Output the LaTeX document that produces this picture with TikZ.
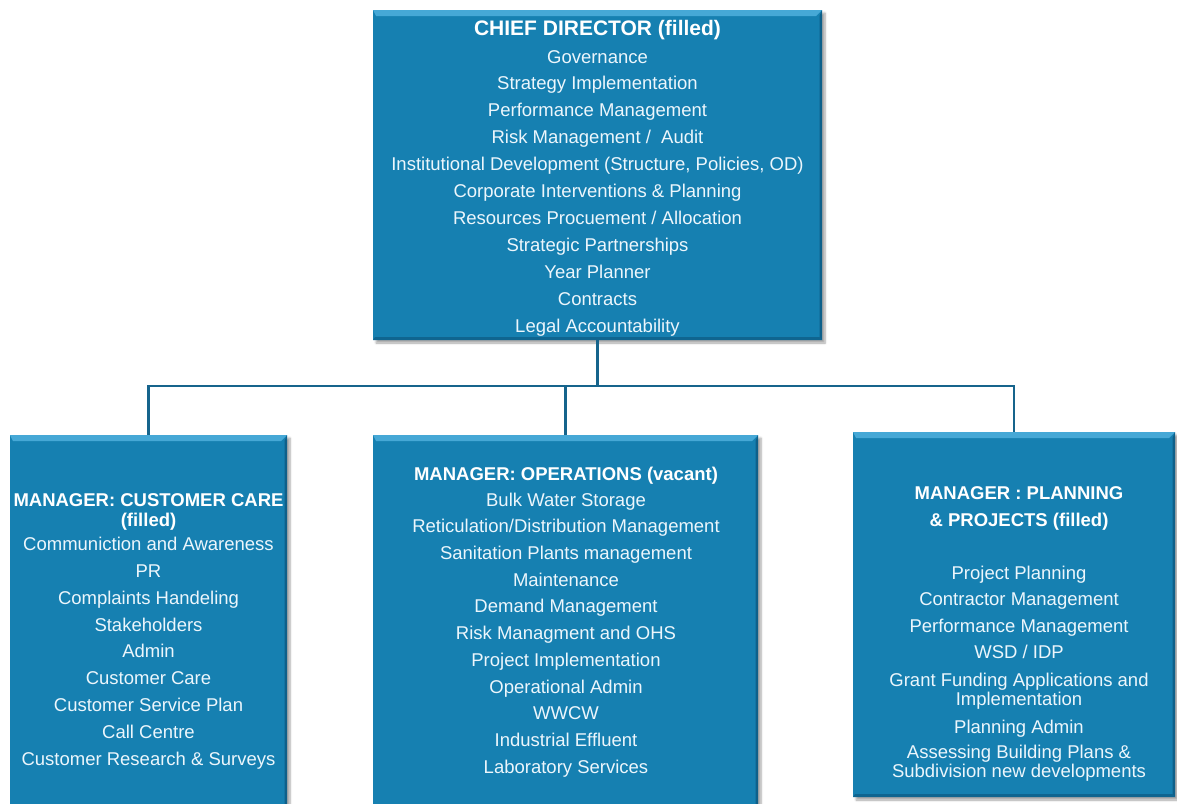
\documentclass[tikz,border=0pt]{standalone}
\usepackage{fontspec}
\setmainfont{Liberation Sans}
\usetikzlibrary{shadows.blur}
\definecolor{boxblue}{RGB}{22,128,177}
\definecolor{bevellight}{RGB}{70,168,214}
\definecolor{beveldark}{RGB}{14,96,138}
\definecolor{linkblue}{RGB}{22,100,140}
\definecolor{itemwhite}{RGB}{236,246,252}
\tikzset{
  orgbox/.style={rectangle, fill=boxblue, inner sep=0pt,
    blur shadow={shadow xshift=3pt, shadow yshift=-3pt, shadow blur steps=6, shadow opacity=35},
    path picture={
      \fill[bevellight] (path picture bounding box.north west)
        -- (path picture bounding box.north east)
        -- ([xshift=-6pt,yshift=-6pt]path picture bounding box.north east)
        -- ([xshift=3pt,yshift=-6pt]path picture bounding box.north west) -- cycle;
      \fill[beveldark] (path picture bounding box.north east)
        -- ([xshift=-2.5pt,yshift=-6pt]path picture bounding box.north east)
        -- ([xshift=-2.5pt,yshift=3pt]path picture bounding box.south east)
        -- (path picture bounding box.south east) -- cycle;
      \fill[beveldark!85!boxblue] (path picture bounding box.south west)
        -- ([xshift=2pt,yshift=3pt]path picture bounding box.south west)
        -- ([xshift=-2.5pt,yshift=3pt]path picture bounding box.south east)
        -- (path picture bounding box.south east) -- cycle;
    }},
  item/.style={anchor=base, inner sep=0pt, text=itemwhite, font=\fontsize{18.5}{20}\selectfont},
  headline/.style={item, text=white, font=\bfseries\fontsize{18.5}{20}\selectfont},
  chiefline/.style={item, text=white, font=\bfseries\fontsize{21}{22}\selectfont},
  link/.style={draw=linkblue, line width=2.6pt}
}
\begin{document}
\begin{tikzpicture}[x=1pt,y=-1pt]
\useasboundingbox (0,0) rectangle (1177,803);
\clip (0,0) rectangle (1177,803);

% boxes
\node[orgbox, minimum width=449pt, minimum height=330pt] (cd) at (597.5,175) {};
\node[orgbox, minimum width=277pt, minimum height=380pt] (cc) at (148.5,625) {};
\node[orgbox, minimum width=385pt, minimum height=380pt] (ops) at (565.5,625) {};
\node[orgbox, minimum width=322pt, minimum height=365pt] (pp) at (1014,614.5) {};

% connectors
\coordinate (bus) at (0,386);
\draw[link] (cd.south) -- (cd.south |- bus);
\draw[link] (cc.north) -- (cc.north |- bus) -- (pp.north |- bus) -- (pp.north);
\draw[link] (ops.north) -- (ops.north |- bus);

% chief director
\node[chiefline] (cdt) at (597.5,35) {CHIEF DIRECTOR (filled)};
\foreach \t [count=\i] in {Governance, Strategy Implementation, Performance Management,
  Risk Management /\ \ Audit, {Institutional Development (Structure, Policies, OD)},
  Corporate Interventions \& Planning, Resources Procuement / Allocation,
  Strategic Partnerships, Year Planner, Contracts, Legal Accountability}
  \node[item] (cd\i) at (597.5,{63+26.9*(\i-1)}) {\t};

% customer care
\node[headline] (cct1) at (148.5,506.5) {MANAGER: CUSTOMER CARE};
\node[headline] (cct2) at (148.5,526) {(filled)};
\foreach \t [count=\i] in {Communiction and Awareness, PR, Complaints Handeling,
  Stakeholders, Admin, Customer Care, Customer Service Plan, Call Centre,
  Customer Research \& Surveys}
  \node[item] (cc\i) at (148.5,{550.7+26.8*(\i-1)}) {\t};

% operations
\node[headline] (opst) at (566,480) {MANAGER: OPERATIONS (vacant)};
\foreach \t [count=\i] in {Bulk Water Storage, Reticulation/Distribution Management,
  Sanitation Plants management, Maintenance, Demand Management,
  Risk Managment and OHS, Project Implementation, Operational Admin, WWCW,
  Industrial Effluent, Laboratory Services}
  \node[item] (ops\i) at (566,{506+26.73*(\i-1)}) {\t};

% planning and projects
\node[headline] (ppt1) at (1019,499.5) {MANAGER : PLANNING};
\node[headline] (ppt2) at (1019,526.5) {\& PROJECTS (filled)};
\node[item] (pp1) at (1019,579.3) {Project Planning};
\node[item] (pp2) at (1019,605.5) {Contractor Management};
\node[item] (pp3) at (1019,632) {Performance Management};
\node[item] (pp4) at (1019,658.3) {WSD / IDP};
\node[item] (pp5a) at (1019,686) {Grant Funding Applications and};
\node[item] (pp5b) at (1019,705.5) {Implementation};
\node[item] (pp6) at (1019,733.3) {Planning Admin};
\node[item] (pp7a) at (1019,758.3) {Assessing Building Plans \&};
\node[item] (pp7b) at (1019,777.3) {Subdivision new developments};
\end{tikzpicture}
\end{document}
